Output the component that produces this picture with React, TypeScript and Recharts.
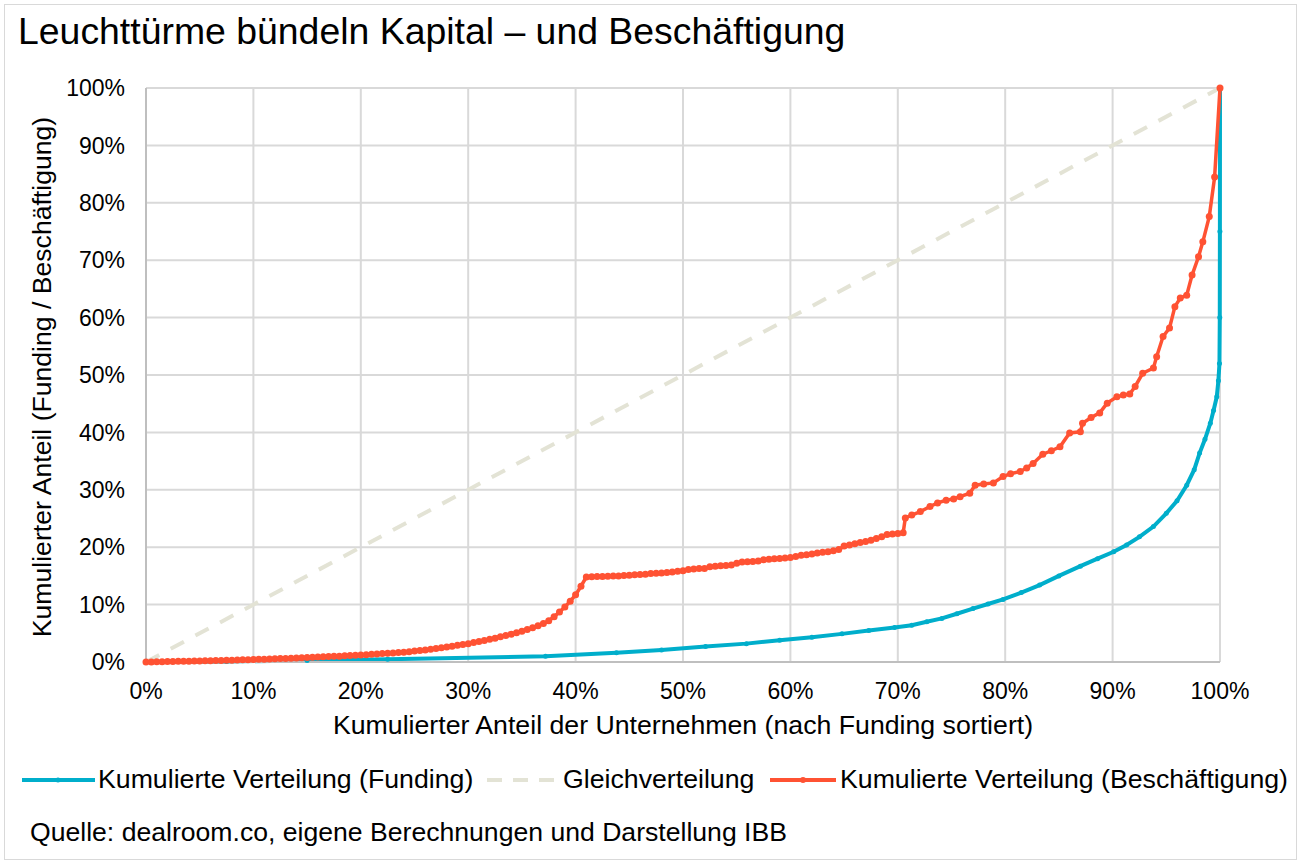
import React from 'react';
import { LineChart, Line, XAxis, YAxis, CartesianGrid } from 'recharts';

// [Anteil Unternehmen %, kumulierter Anteil %]
const fundingPoints: [number, number][] = [
  [0, 0], [7.5, 0.1], [15, 0.25], [22.5, 0.5], [37.2, 1.0], [43.8, 1.6], [48, 2.1],
  [52.1, 2.7], [55.9, 3.2], [59, 3.8], [62, 4.3], [64.8, 4.9], [67.3, 5.5], [69.7, 6.0],
  [71.3, 6.4], [72.7, 7.0], [74.1, 7.6], [75.5, 8.4], [77, 9.3], [78.4, 10.1], [79.8, 10.9],
  [81.5, 12.1], [83.2, 13.4], [85, 15.0], [87, 16.7], [88.6, 18.0], [90.1, 19.2],
  [91.3, 20.4], [92.5, 21.8], [93.8, 23.6], [95, 25.9], [96, 28.1], [96.9, 30.8],
  [97.6, 33.5], [98.1, 36.4], [98.6, 38.8], [99.1, 41.6], [99.4, 43.8], [99.7, 46.2],
  [99.85, 49], [99.95, 52], [99.98, 60], [99.99, 75], [100, 100],
];

const gleichPoints: [number, number][] = [
  [0, 0], [100, 100],
];

const beschaeftigungPoints: [number, number][] = [
  [0, 0], [0.5, 0.02], [1, 0.04], [1.5, 0.06], [2, 0.08], [2.5, 0.1], [3, 0.11], [3.5, 0.13],
  [4, 0.15], [4.5, 0.17], [5, 0.19], [5.5, 0.21], [6, 0.23], [6.5, 0.25], [7, 0.27], [7.5, 0.29],
  [8, 0.32], [8.5, 0.35], [9, 0.38], [9.5, 0.41], [10, 0.44], [10.5, 0.47], [11, 0.5], [11.5, 0.53],
  [12, 0.56], [12.5, 0.6], [13, 0.63], [13.5, 0.67], [14, 0.7], [14.5, 0.74], [15, 0.78], [15.5, 0.82],
  [16, 0.86], [16.5, 0.9], [17, 0.94], [17.5, 0.98], [18, 1.02], [18.5, 1.07], [19, 1.12], [19.5, 1.17],
  [20, 1.22], [20.5, 1.28], [21, 1.34], [21.5, 1.4], [22, 1.46], [22.5, 1.52], [23, 1.58], [23.5, 1.65],
  [24, 1.72], [24.5, 1.8], [25, 1.9], [25.5, 2.0], [26, 2.1], [26.5, 2.2], [27, 2.35], [27.5, 2.5],
  [28, 2.6], [28.5, 2.75], [29, 2.9], [29.5, 3.05], [30, 3.2], [30.5, 3.4], [31, 3.55], [31.5, 3.75],
  [32, 3.95], [32.5, 4.15], [33, 4.4], [33.5, 4.6], [34, 4.85], [34.5, 5.1], [35, 5.35], [35.5, 5.65],
  [36, 5.95], [36.5, 6.3], [37, 6.7], [37.5, 7.2], [38, 7.9], [38.5, 8.7], [39, 9.6], [39.5, 10.6],
  [40, 11.7], [40.5, 13.2], [41, 14.8], [41.5, 14.85], [42, 14.9], [42.5, 14.9], [43, 14.95], [43.5, 15.0],
  [44, 15.0], [44.5, 15.05], [45, 15.1], [45.5, 15.2], [46, 15.25], [46.5, 15.3], [47, 15.4], [47.5, 15.45],
  [48, 15.5], [48.5, 15.6], [49, 15.7], [49.5, 15.8], [50, 15.9], [50.5, 16.1], [51, 16.2], [51.5, 16.3],
  [52, 16.3], [52.5, 16.6], [53, 16.7], [53.5, 16.75], [54, 16.8], [54.5, 16.9], [55, 17.2], [55.5, 17.4],
  [56, 17.45], [56.5, 17.5], [57, 17.6], [57.5, 17.8], [58, 17.9], [58.5, 18.0], [59, 18.05], [59.5, 18.1],
  [60, 18.2], [60.5, 18.4], [61, 18.6], [61.5, 18.7], [62, 18.8], [62.5, 19.0], [63, 19.1], [63.5, 19.2],
  [64, 19.4], [64.5, 19.6], [65, 20.2], [65.5, 20.4], [66, 20.6], [66.5, 20.8], [67, 21.0], [67.5, 21.2],
  [68, 21.5], [68.5, 21.8], [69, 22.2], [69.5, 22.3], [70, 22.4], [70.5, 22.5], [70.7, 25.1], [71.3, 25.6],
  [72.1, 26.2], [73, 27.1], [73.7, 27.7], [74.5, 28.2], [75.2, 28.4], [75.8, 28.8], [76.7, 29.4], [77.2, 30.8],
  [78, 31.0], [78.9, 31.2], [79.8, 32.3], [80.5, 32.8], [81.4, 33.2], [82, 33.8], [82.6, 34.6], [83.5, 36.2],
  [84.3, 36.8], [85.1, 37.5], [86, 39.9], [87, 40.1], [87.2, 41.6], [88, 42.6], [88.8, 43.4], [89.5, 45.1],
  [90.4, 46.2], [91, 46.5], [91.6, 46.7], [92.1, 48.0], [92.8, 50.3], [93.8, 51.2], [94.1, 53.2], [94.7, 56.7],
  [95.3, 58.2], [95.8, 61.9], [96.3, 63.4], [96.9, 63.9], [97.4, 67.4], [98, 70.6], [98.4, 73.2], [99, 77.6],
  [99.5, 84.5], [100, 100],
];

const axisTicks = [0, 10, 20, 30, 40, 50, 60, 70, 80, 90, 100];

const BLUE = '#00AECB';
const ORANGE = '#FF5233';
const BEIGE = '#E3E3D5';
const FONT = '"Liberation Sans", Arial, sans-serif';

const toRows = (pts: [number, number][]) => pts.map(([x, y]) => ({ x, y }));

export default function App() {
  return (
    <div style={{ position: 'absolute', left: 0, top: 0, width: 1300, height: 863, background: '#fff', fontFamily: FONT, color: '#000' }}>
      <div style={{ position: 'absolute', left: 4, top: 4, width: 1291, height: 854, border: '1px solid #d9d9d9' }} />
      <div style={{ position: 'absolute', left: 18, top: 10, fontSize: 37.4, whiteSpace: 'nowrap' }}>
        Leuchttürme bündeln Kapital – und Beschäftigung
      </div>
      <LineChart width={1300} height={863} margin={{ top: 88, right: 80, left: 86, bottom: 171 }} style={{ position: 'absolute', left: 0, top: 0 }}>
        <CartesianGrid stroke="#d9d9d9" strokeWidth={2} ticks={axisTicks} />
        <XAxis
          type="number"
          dataKey="x"
          domain={[0, 100]}
          ticks={axisTicks}
          height={30}
          tickFormatter={(v: number) => `${v}%`}
          tick={{ fill: '#000', fontSize: 23, fontFamily: FONT }}
          tickSize={0}
          tickMargin={21}
          axisLine={{ stroke: '#bfbfbf', strokeWidth: 2 }}
          interval={0}
        />
        <YAxis
          type="number"
          dataKey="y"
          domain={[0, 100]}
          ticks={axisTicks}
          width={60}
          tickFormatter={(v: number) => `${v}%`}
          tick={{ fill: '#000', fontSize: 23, fontFamily: FONT }}
          tickSize={0}
          tickMargin={21}
          axisLine={{ stroke: '#bfbfbf', strokeWidth: 2 }}
          interval={0}
        />
        <Line data={toRows(gleichPoints)} dataKey="y" type="linear" stroke={BEIGE} strokeWidth={4} strokeDasharray="15 13" dot={false} isAnimationActive={false} />
        <Line data={toRows(fundingPoints)} dataKey="y" type="linear" stroke={BLUE} strokeWidth={4} dot={{ r: 2.5, fill: BLUE, stroke: 'none' }} isAnimationActive={false} />
        <Line data={toRows(beschaeftigungPoints)} dataKey="y" type="linear" stroke={ORANGE} strokeWidth={3.5} dot={{ r: 3.5, fill: ORANGE, stroke: 'none' }} isAnimationActive={false} />
      </LineChart>
      <div style={{ position: 'absolute', left: 42, top: 377, width: 0, height: 0 }}>
        <div style={{ position: 'absolute', left: 0, top: 0, transform: 'translate(-50%, -50%) rotate(-90deg)', fontSize: 26.6, whiteSpace: 'nowrap' }}>
          Kumulierter Anteil (Funding / Beschäftigung)
        </div>
      </div>
      <div style={{ position: 'absolute', left: 146, width: 1074, top: 710, textAlign: 'center', fontSize: 26.7, whiteSpace: 'nowrap' }}>
        Kumulierter Anteil der Unternehmen (nach Funding sortiert)
      </div>
      <svg style={{ position: 'absolute', left: 0, top: 760 }} width={1300} height={40}>
        <line x1={22} x2={95} y1={20} y2={20} stroke={BLUE} strokeWidth={4} />
        <circle cx={58} cy={20} r={2.5} fill={BLUE} />
        <line x1={487} x2={557} y1={20} y2={20} stroke={BEIGE} strokeWidth={4} strokeDasharray="15 11" />
        <line x1={770} x2={836} y1={20} y2={20} stroke={ORANGE} strokeWidth={4} />
        <circle cx={803} cy={20} r={3} fill={ORANGE} />
      </svg>
      <div style={{ position: 'absolute', left: 98, top: 764, fontSize: 26.7, whiteSpace: 'nowrap' }}>Kumulierte Verteilung (Funding)</div>
      <div style={{ position: 'absolute', left: 563, top: 764, fontSize: 26.7, whiteSpace: 'nowrap' }}>Gleichverteilung</div>
      <div style={{ position: 'absolute', left: 840, top: 764, fontSize: 26.7, whiteSpace: 'nowrap' }}>Kumulierte Verteilung (Beschäftigung)</div>
      <div style={{ position: 'absolute', left: 30, top: 817, fontSize: 26.6, whiteSpace: 'nowrap' }}>
        Quelle: dealroom.co, eigene Berechnungen und Darstellung IBB
      </div>
    </div>
  );
}
